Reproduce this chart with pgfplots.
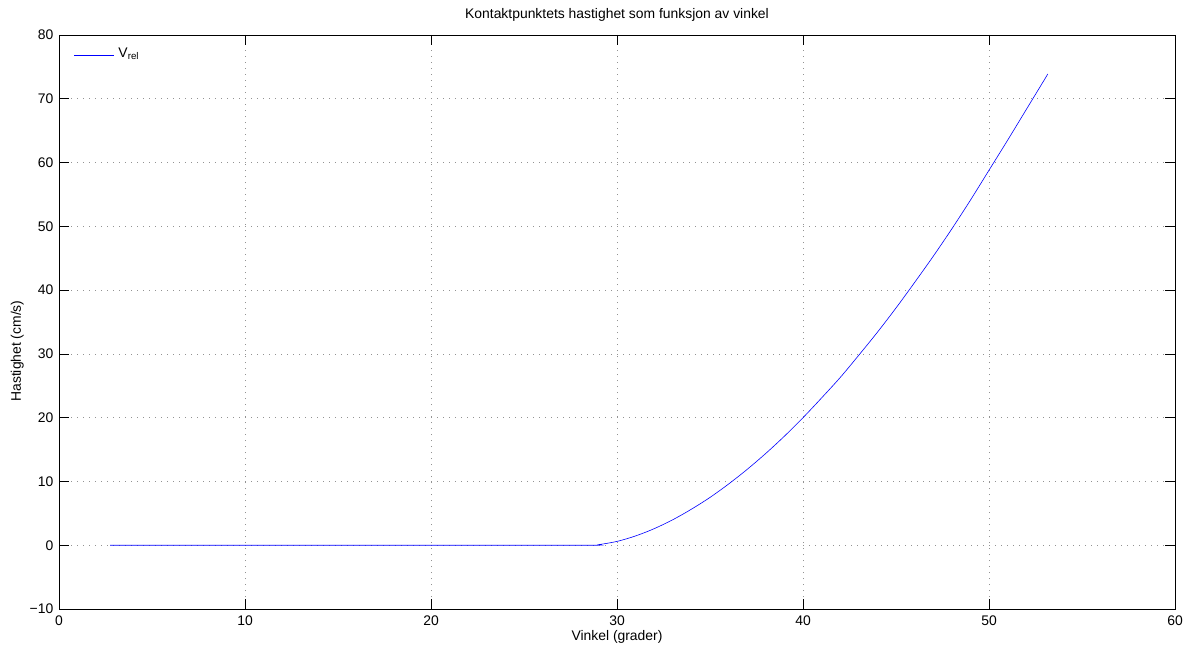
\documentclass[border=0pt]{standalone}
\usepackage{fontspec}
\setmainfont{Liberation Sans}
\usepackage{pgfplots}
\pgfplotsset{compat=1.18}

\begin{document}
\begin{tikzpicture}
  \begin{axis}[
      scale only axis,
      width=1116bp, height=574bp,
      xmin=0, xmax=60, ymin=-10, ymax=80,
      xtick={0,10,...,60},
      ytick={-10,0,...,80},
      yticklabels={−10,0,10,20,30,40,50,60,70,80},
      /pgf/number format/assume math mode=true,
      font=\fontsize{13.9bp}{16bp}\selectfont,
      tick align=inside, tick pos=both,
      major tick length=10bp,
      axis line style={line width=0.7pt},
      every tick/.style={black, line width=0.6pt},
      xmajorgrids, ymajorgrids,
      grid style={gray!85, line width=0.8pt, dash pattern=on 1bp off 5bp},
      xticklabel style={inner sep=0pt, yshift=-7bp},
      yticklabel style={inner sep=0pt, xshift=-5.5bp},
      title={Kontaktpunktets hastighet som funksjon av vinkel},
      title style={at={(axis description cs:0.5,1.0192)}, anchor=base, inner sep=0pt},
      xlabel={Vinkel (grader)},
      every axis x label/.style={at={(axis description cs:0.5,-0.0557)}, anchor=base, inner sep=0pt},
      ylabel={Hastighet (cm/s)},
      every axis y label/.style={at={(axis description cs:-0.0341,0.4495)}, rotate=90, anchor=base, inner sep=0pt},
      legend style={at={(axis description cs:0.0137,0.978)}, anchor=north west, draw=none, fill=none,
        inner sep=0pt, nodes={inner sep=0pt}, column sep=0pt,
        font=\fontsize{13.9bp}{16bp}\selectfont},
      legend image code/.code={},
      legend cell align=left,
    ]
    \addplot[color=blue, line width=0.6pt, smooth] coordinates {
      (2.75,0) (10,0) (20,0) (28.5,0) (29,0.09) (30,0.6) (31,1.46) (32,2.6)
      (33,4.0) (34,5.65) (35,7.5) (36,9.6) (37,11.9) (38,14.4) (39,17.1)
      (40,20) (41,23.1) (42,26.3) (43,29.8) (44,33.4) (45,37.2) (46,41.2)
      (47,45.3) (48,49.6) (49,54.1) (50,58.8) (51,63.5) (52,68.3) (53,73.1)
      (53.16,73.9)
    };
    \addlegendentry{\textcolor{blue}{\rule[2bp]{40bp}{0.7pt}}\hspace{4bp}V\textsubscript{rel}}
  \end{axis}
  \pgfresetboundingbox
  \path ([shift={(-59bp,-39bp)}]current axis.south west) rectangle ([shift={(12bp,35bp)}]current axis.north east);
\end{tikzpicture}
\end{document}
